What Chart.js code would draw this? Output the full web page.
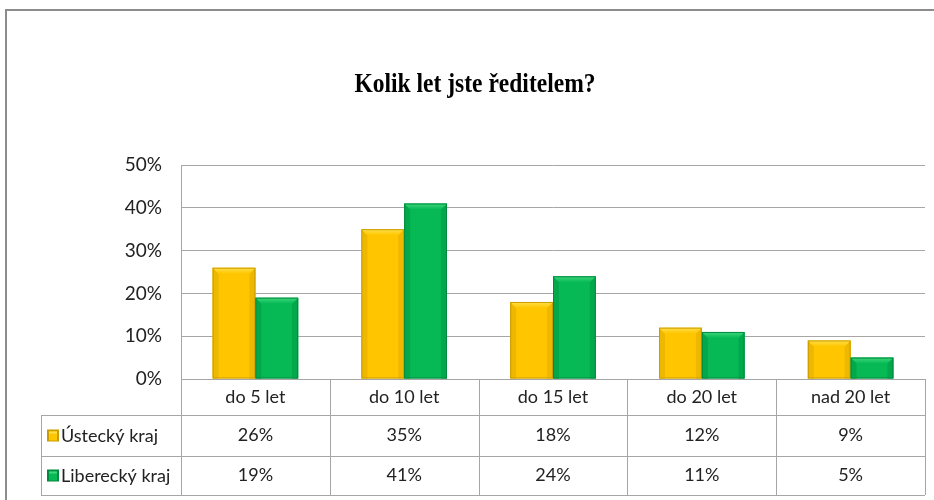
<!DOCTYPE html>
<html>
<head>
<meta charset="utf-8">
<script src="https://cdn.jsdelivr.net/npm/chart.js@4/dist/chart.umd.min.js"></script>
<style>
  html, body { margin: 0; padding: 0; background: #fff; }
  #wrap { width: 934px; height: 500px; position: relative; }
</style>
</head>
<body>
<div id="wrap"><canvas id="chart" width="934" height="500"></canvas></div>
<script>
const categories = ['do 5 let', 'do 10 let', 'do 15 let', 'do 20 let', 'nad 20 let'];
const seriesNames = ['Ústecký kraj', 'Liberecký kraj'];
const usteckyValues = [26, 35, 18, 12, 9];
const libereckyValues = [19, 41, 24, 11, 5];
const yTicks = [0, 10, 20, 30, 40, 50];

const titleText = 'Kolik let jste ředitelem?';
const FONT = "Lato, 'Liberation Sans Narrow', 'Noto Sans', sans-serif";
const gridColor = '#a6a6a6';

const palette = [
    { fill: '#ffc600', top: '#ffe04a', side: '#efb800', border: '#c99c00' },
    { fill: '#06b955', top: '#3fd77d', side: '#03a84c', border: '#018a3d' }
];

// frame and title
const framePlugin = {
    id: 'frame',
    beforeDraw(chart) {
        const ctx = chart.ctx;
        ctx.save();
        ctx.fillStyle = '#fff';
        ctx.fillRect(0, 0, chart.width, chart.height);
        ctx.strokeStyle = '#8c8c8c';
        ctx.lineWidth = 2;
        ctx.beginPath();
        ctx.moveTo(6, chart.height);
        ctx.lineTo(6, 10);
        ctx.lineTo(chart.width, 10);
        ctx.stroke();

        ctx.fillStyle = '#000';
        ctx.font = "bold 28px 'Liberation Serif', 'DejaVu Serif', serif";
        ctx.textAlign = 'center';
        ctx.textBaseline = 'middle';
        ctx.translate(475, 85);
        ctx.scale(0.84, 1);
        ctx.fillText(titleText, 0, 0);
        ctx.restore();
    }
};

// bevel on bars
const bevelPlugin = {
    id: 'bevel',
    afterDatasetsDraw(chart) {
        const ctx = chart.ctx;
        chart.data.datasets.forEach((ds, di) => {
            const c = palette[di];
            chart.getDatasetMeta(di).data.forEach(bar => {
                const w = bar.width;
                const l = bar.x - w / 2, r = bar.x + w / 2;
                const t = bar.y, b = bar.base;
                const bv = Math.min(6, (b - t) / 2);
                ctx.save();
                ctx.fillStyle = c.side;
                ctx.beginPath();
                ctx.moveTo(l, t); ctx.lineTo(l + bv, t + bv); ctx.lineTo(l + bv, b); ctx.lineTo(l, b); ctx.closePath();
                ctx.fill();
                ctx.beginPath();
                ctx.moveTo(r, t); ctx.lineTo(r - bv, t + bv); ctx.lineTo(r - bv, b); ctx.lineTo(r, b); ctx.closePath();
                ctx.fill();
                const g = ctx.createLinearGradient(0, t, 0, t + bv);
                g.addColorStop(0, c.top);
                g.addColorStop(1, c.fill);
                ctx.fillStyle = g;
                ctx.beginPath();
                ctx.moveTo(l, t); ctx.lineTo(r, t); ctx.lineTo(r - bv, t + bv); ctx.lineTo(l + bv, t + bv); ctx.closePath();
                ctx.fill();
                ctx.strokeStyle = c.border;
                ctx.lineWidth = 1;
                ctx.strokeRect(l + 0.5, t + 0.5, w - 1, b - t - 1);
                ctx.restore();
            });
        });
    }
};

// data table under the plot
const tablePlugin = {
    id: 'dataTable',
    afterDraw(chart) {
        const ctx = chart.ctx;
        const xs = chart.scales.x;
        const area = chart.chartArea;
        const step = xs.getPixelForValue(1) - xs.getPixelForValue(0);
        const top = area.bottom;
        const rowLines = [top, top + 36, top + 77, top + 116];
        const tableLeft = 41;

        ctx.save();
        ctx.strokeStyle = gridColor;
        ctx.lineWidth = 1;
        ctx.beginPath();
        for (let i = 0; i <= categories.length; i++) {
            const x = Math.round(xs.getPixelForValue(i) - step / 2) + 0.5;
            ctx.moveTo(x, top); ctx.lineTo(x, rowLines[3]);
        }
        ctx.moveTo(tableLeft + 0.5, rowLines[1]); ctx.lineTo(tableLeft + 0.5, rowLines[3]);
        for (let k = 1; k < 4; k++) {
            ctx.moveTo(tableLeft, rowLines[k] + 0.5); ctx.lineTo(area.right, rowLines[k] + 0.5);
        }
        ctx.stroke();

        ctx.fillStyle = '#222';
        ctx.font = '18px ' + FONT;
        ctx.textAlign = 'center';
        ctx.textBaseline = 'middle';
        const rows = [usteckyValues, libereckyValues];
        categories.forEach((cat, i) => {
            const x = xs.getPixelForValue(i);
            ctx.fillText(cat, x, (rowLines[0] + rowLines[1]) / 2);
            rows.forEach((vals, r) => {
                ctx.fillText(vals[i] + '%', x, (rowLines[r + 1] + rowLines[r + 2]) / 2);
            });
        });

        ctx.textAlign = 'left';
        seriesNames.forEach((name, r) => {
            const cy = (rowLines[r + 1] + rowLines[r + 2]) / 2;
            const c = palette[r];
            ctx.fillStyle = c.border;
            ctx.fillRect(47, cy - 6, 12, 12);
            ctx.fillStyle = c.fill;
            ctx.fillRect(49, cy - 4, 8, 9);
            ctx.fillStyle = c.top;
            ctx.fillRect(49, cy - 4, 8, 2);
            ctx.fillStyle = '#222';
            ctx.fillText(name, 61, cy + 1);
        });
        ctx.restore();
    }
};

new Chart(document.getElementById('chart'), {
    type: 'bar',
    data: {
        labels: categories,
        datasets: [
            { label: seriesNames[0], data: usteckyValues, backgroundColor: palette[0].fill },
            { label: seriesNames[1], data: libereckyValues, backgroundColor: palette[1].fill }
        ]
    },
    options: {
        responsive: false,
        animation: false,
        layout: { padding: { top: 165, bottom: 121, left: 0, right: 9 } },
        plugins: {
            legend: { display: false },
            tooltip: { enabled: false }
        },
        datasets: { bar: { barPercentage: 1, categoryPercentage: 0.575 } },
        scales: {
            x: { display: false },
            y: {
                min: 0,
                max: 50,
                afterFit(scale) { scale.width = 181; },
                afterBuildTicks(scale) { scale.ticks = yTicks.map(v => ({ value: v })); },
                border: { display: true, color: gridColor },
                grid: { color: gridColor, drawTicks: false },
                ticks: {
                    padding: 19,
                    color: '#222',
                    font: { family: FONT, size: 19 },
                    callback: v => v + '%'
                }
            }
        }
    },
    plugins: [framePlugin, bevelPlugin, tablePlugin]
});
</script>
</body>
</html>
